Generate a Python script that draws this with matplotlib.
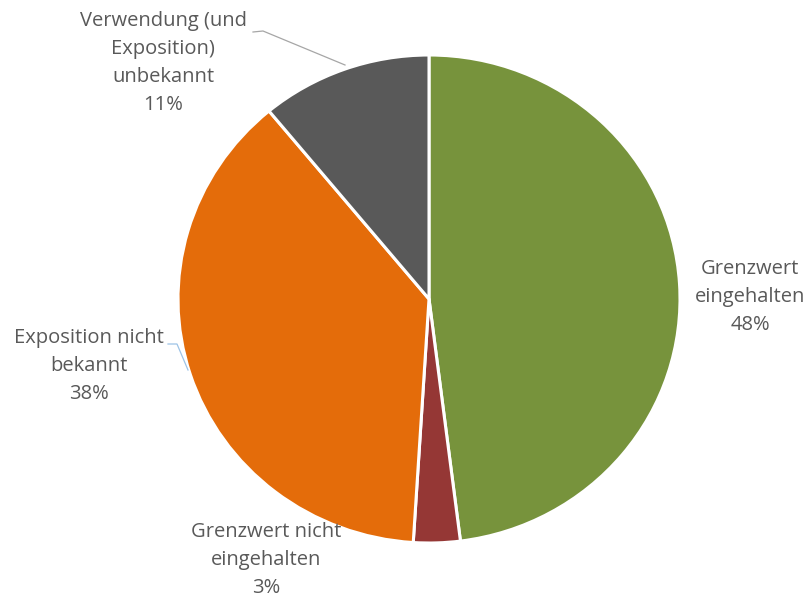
import matplotlib.pyplot as plt
from matplotlib.lines import Line2D

# Anteile der Kategorien (Uhrzeigersinn ab 12 Uhr)
labels = ["Grenzwert\neingehalten", "Grenzwert nicht\neingehalten",
          "Exposition nicht\nbekannt", "Verwendung (und\nExposition)\nunbekannt"]
shares = [48, 3, 38, 11]
colors = ["#77933C", "#953735", "#E46C0A", "#595959"]

W, H = 811, 601
fig = plt.figure(figsize=(W / 100, H / 100), dpi=100)
ax = fig.add_axes([0, 0, 1, 1])

# Kreis leicht in die Breite gezogen (251 px horizontal, 244 px vertikal)
rx, ry = 251, 244
k = rx / ry
cx, cy = 429, (H - 299) * k
ax.pie(shares, colors=colors, startangle=90, counterclock=False,
       center=(cx, cy), radius=rx,
       wedgeprops=dict(edgecolor="white", linewidth=2.2))
ax.set_aspect("auto")
ax.set_xlim(0, W)
ax.set_ylim(0, H * k)
ax.axis("off")


def px(x, y):
    return x / W, 1 - y / H


# Beschriftungen (Mitte des Textblocks in Pixeln)
label_pos = [(750, 297), (266, 560), (89, 366), (163, 63)]
text_kw = dict(ha="center", va="center", fontsize=14.5, color="#595959",
               family="Open Sans", linespacing=1.55)
for lab, val, (lx, ly) in zip(labels, shares, label_pos):
    fig.text(*px(lx, ly), f"{lab}\n{val}%", **text_kw)

# Führungslinien
leaders = [([253, 263, 345], [32, 31, 65], "#A6A6A6"),
           ([168, 177, 188], [344, 344, 370], "#9DC3E6")]
for xs, ys, c in leaders:
    fig.add_artist(Line2D([x / W for x in xs], [1 - y / H for y in ys],
                          color=c, lw=0.9))

fig.savefig("out.png", dpi=100)
